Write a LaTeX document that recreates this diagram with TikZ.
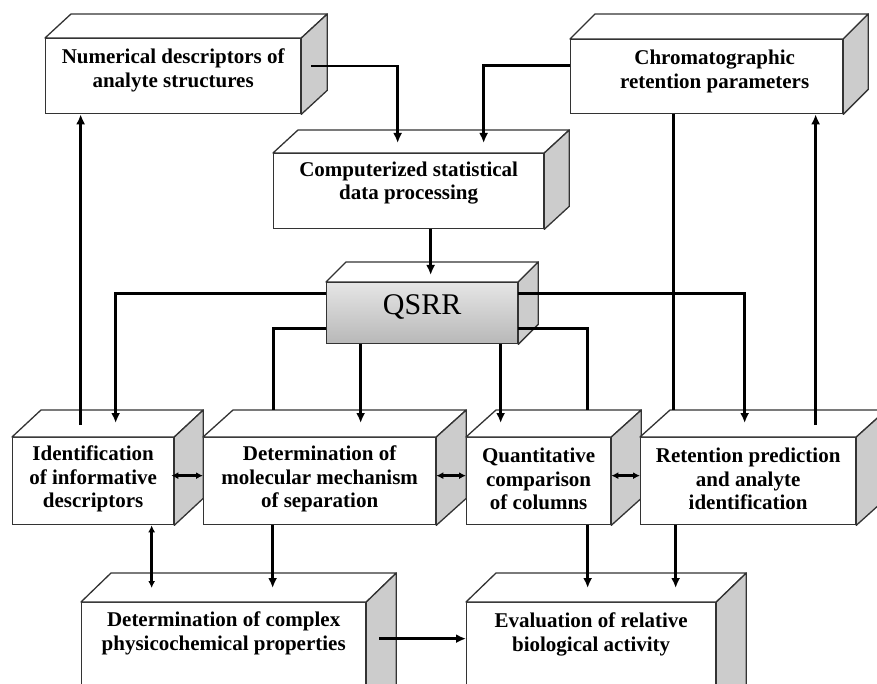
\documentclass[tikz,border=0pt]{standalone}
\usepackage{fontspec}
\setmainfont{Liberation Serif}
\usetikzlibrary{arrows.meta,positioning}

\tikzset{
  face/.style={draw=black!80, line width=1.3pt, fill=white, anchor=north west, inner sep=0pt},
  boxtext/.style={inner sep=0pt, align=center, font=\bfseries\fontsize{21}{23.5}\selectfont},
  conn/.style={line width=2.7pt, -{Latex[length=10pt,width=9pt]}},
  link/.style={line width=2.7pt},
  both/.style={line width=2.5pt, {Latex[length=7pt,width=7pt]}-{Latex[length=7pt,width=7pt]}},
}
% top and side faces of a box: node, dx, dy
\newcommand{\cuboid}[3]{%
  \draw[draw=black!80, line width=1.3pt, fill=white, line join=round]
    (#1.north west) -- ++(#2,-#3) -- ([shift={(#2,-#3)}]#1.north east) -- (#1.north east) -- cycle;
  \draw[draw=black!80, line width=1.3pt, fill=black!20, line join=round]
    (#1.north east) -- ([shift={(#2,-#3)}]#1.north east) -- ([shift={(#2,-#3)}]#1.south east) -- (#1.south east) -- cycle;
}

\begin{document}
\begin{tikzpicture}[x=1pt, y=-1pt]
  \useasboundingbox (0,0) rectangle (877,684);
  \clip (0,0) rectangle (877,684);

  % boxes
  \node[face, minimum width=255pt, minimum height=75pt] (num) at (45,38) {};
  \cuboid{num}{26}{24}
  \node[boxtext] (numtxt) at ([yshift=6]num.center) {Numerical descriptors of\\analyte structures};

  \node[face, minimum width=272pt, minimum height=74pt] (chrom) at (570,39) {};
  \cuboid{chrom}{25}{25}
  \node[boxtext] (chromtxt) at ([shift={(8,-5)}]chrom.center) {Chromatographic\\retention parameters};

  \node[face, minimum width=270pt, minimum height=75pt] (comp) at (273,153) {};
  \cuboid{comp}{25}{23}
  \node[boxtext] (comptxt) at ([yshift=8]comp.center) {Computerized statistical\\data processing};

  \node[face, minimum width=191pt, minimum height=61pt, top color=black!10, middle color=white, bottom color=black!28] (qsrr) at (326,282) {};
  \cuboid{qsrr}{20}{20}
  \node[inner sep=0pt, font=\fontsize{30}{30}\selectfont] (qsrrtxt) at ([yshift=6]qsrr.center) {QSRR};

  \node[face, minimum width=161pt, minimum height=87pt] (ident) at (12,437) {};
  \cuboid{ident}{29}{27}
  \node[boxtext] (identtxt) at ([yshift=2]ident.center) {Identification\\of informative\\descriptors};

  \node[face, minimum width=232pt, minimum height=87pt] (mech) at (203,437) {};
  \cuboid{mech}{30}{27}
  \node[boxtext] (mechtxt) at ([yshift=2]mech.center) {Determination of\\molecular mechanism\\of separation};

  \node[face, minimum width=144pt, minimum height=87pt] (quant) at (466,437) {};
  \cuboid{quant}{30}{27}
  \node[boxtext] (quanttxt) at ([yshift=2]quant.center) {Quantitative\\comparison\\of columns};

  \node[face, minimum width=215pt, minimum height=87pt] (retn) at (640,437) {};
  \cuboid{retn}{30}{27}
  \node[boxtext] (retntxt) at ([yshift=2]retn.center) {Retention prediction\\and analyte\\identification};

  \node[face, minimum width=284pt, minimum height=130pt] (cplx) at (81,602) {};
  \cuboid{cplx}{30}{29}
  \node[boxtext, below=10pt of cplx.north] (cplxtxt) {Determination of complex\\physicochemical properties};

  \node[face, minimum width=249pt, minimum height=130pt] (evalu) at (466,602) {};
  \cuboid{evalu}{30}{29}
  \node[boxtext, below=11pt of evalu.north] (evalutxt) {Evaluation of relative\\biological activity};

  % connectors
  \draw[conn] ([shift={(10,-10)}]num.east) -| ([shift={(-11,-10)}]comp.north);
  \draw[conn] ([yshift=11]chrom.west) -| ([shift={(75,-10)}]comp.north);
  \draw[conn] ([xshift=22]comp.south) -- ([shift={(8.5,-7)}]qsrr.north);
  \draw[conn] ([yshift=19.5]qsrr.west) -| ([shift={(22.5,-14)}]ident.north);
  \draw[conn] ([yshift=19.5]qsrr.east) -| ([shift={(-3.5,-14)}]retn.north);
  \draw[link] ([yshift=-15.5]qsrr.west) -| ([shift={(-46,-27)}]mech.north);
  \draw[link] ([yshift=-15.5]qsrr.east) -| ([shift={(49,-27)}]quant.north);
  \draw[conn] ([xshift=-61.5]qsrr.south) -- ([shift={(41,-14)}]mech.north);
  \draw[conn] ([xshift=78.5]qsrr.south) -- ([shift={(-38,-14)}]quant.north);
  \draw[link] ([xshift=-33]chrom.south) -- ([shift={(-74.5,-27)}]retn.north);
  \draw[conn] ([shift={(67.5,-12)}]retn.north) -- ([xshift=109]chrom.south);
  \draw[conn] ([shift={(-12.5,-12)}]ident.north) -- ([xshift=-92.5]num.south);
  \draw[both] ([shift={(-3,-5.5)}]ident.east) -- ([yshift=5.5]mech.west);
  \draw[both] ([yshift=5.5]mech.east) -- ([yshift=5.5]quant.west);
  \draw[both] ([yshift=5.5]quant.east) -- ([yshift=5.5]retn.west);
  \draw[both] ([xshift=58.5]ident.south) -- ([shift={(-72,-14)}]cplx.north);
  \draw[conn] ([xshift=-47]mech.south) -- ([shift={(49,-14)}]cplx.north);
  \draw[conn] ([xshift=49]quant.south) -- ([shift={(-3.5,-14)}]evalu.north);
  \draw[conn] ([xshift=-72.5]retn.south) -- ([shift={(84.5,-14)}]evalu.north);
  \draw[conn] ([shift={(13,-29)}]cplx.east) -- ([yshift=29]evalu.west);
\end{tikzpicture}
\end{document}
